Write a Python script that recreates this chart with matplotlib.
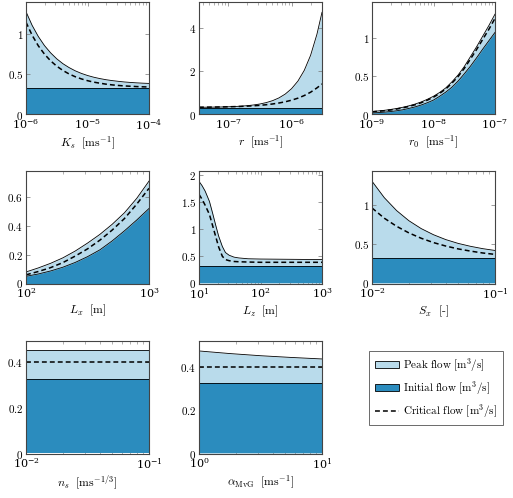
import matplotlib
matplotlib.use("Agg")
import numpy as np
import matplotlib.pyplot as plt
from matplotlib.ticker import LogLocator, FuncFormatter, NullFormatter, FixedLocator
from matplotlib.patches import Patch
from matplotlib.lines import Line2D

plt.rcParams['mathtext.fontset'] = 'cm'
plt.rcParams['font.family'] = ['DejaVu Serif']

W, H = 513, 498

# ---------------- data (x given as log10 exponents) ----------------
initial_level = 0.325

ks_logx = [-6.0, -5.9, -5.8, -5.7, -5.6, -5.5, -5.4, -5.3, -5.2, -5.1, -5.0,
           -4.9, -4.8, -4.7, -4.6, -4.5, -4.4, -4.3, -4.2, -4.1, -4.0]
ks_peak = [1.27, 1.101, 0.964, 0.852, 0.762, 0.688, 0.628, 0.580, 0.540, 0.508, 0.482,
           0.461, 0.444, 0.430, 0.419, 0.410, 0.402, 0.396, 0.391, 0.387, 0.384]
ks_crit = [1.14, 0.979, 0.849, 0.746, 0.663, 0.597, 0.544, 0.501, 0.467, 0.440, 0.418,
           0.400, 0.387, 0.375, 0.366, 0.359, 0.353, 0.349, 0.345, 0.342, 0.340]
ks_init = [initial_level] * len(ks_logx)

r_logx = [-7.46, -7.3, -7.2, -7.1, -7.0, -6.9, -6.8, -6.7, -6.6, -6.5, -6.4,
          -6.3, -6.2, -6.1, -6.0, -5.9, -5.8, -5.7, -5.6, -5.52]
r_peak = [0.336, 0.340, 0.345, 0.350, 0.359, 0.370, 0.387, 0.410, 0.443, 0.488, 0.553,
          0.643, 0.770, 0.949, 1.20, 1.553, 2.05, 2.75, 3.73, 4.75]
r_crit = [0.339, 0.343, 0.347, 0.352, 0.358, 0.366, 0.376, 0.389, 0.405, 0.427, 0.454,
          0.489, 0.534, 0.591, 0.665, 0.759, 0.881, 1.036, 1.236, 1.42]
r_init = [initial_level] * len(r_logx)

r0_logx = [-9.0, -8.9, -8.8, -8.7, -8.6, -8.5, -8.4, -8.3, -8.2, -8.1, -8.0,
           -7.9, -7.8, -7.7, -7.6, -7.5, -7.4, -7.3, -7.2, -7.1, -7.0]
r0_peak = [0.040, 0.047, 0.055, 0.066, 0.079, 0.095, 0.114, 0.137, 0.165, 0.200, 0.240,
           0.290, 0.350, 0.430, 0.520, 0.630, 0.760, 0.890, 1.030, 1.170, 1.320]
r0_crit = [0.035, 0.042, 0.049, 0.059, 0.072, 0.087, 0.106, 0.128, 0.155, 0.189, 0.228,
           0.278, 0.336, 0.413, 0.500, 0.606, 0.729, 0.854, 0.988, 1.120, 1.265]
r0_init = [0.020, 0.025, 0.031, 0.039, 0.049, 0.062, 0.080, 0.100, 0.125, 0.155, 0.190,
           0.240, 0.295, 0.360, 0.440, 0.535, 0.635, 0.745, 0.860, 0.970, 1.080]

lx_logx = [2.0, 2.1, 2.2, 2.3, 2.4, 2.5, 2.6, 2.7, 2.8, 2.9, 3.0]
lx_peak = [0.080, 0.108, 0.140, 0.178, 0.225, 0.280, 0.340, 0.410, 0.490, 0.590, 0.710]
lx_crit = [0.060, 0.083, 0.110, 0.145, 0.190, 0.240, 0.300, 0.370, 0.450, 0.550, 0.660]
lx_init = [0.050, 0.066, 0.087, 0.113, 0.146, 0.186, 0.233, 0.295, 0.365, 0.440, 0.520]

lz_logx = [1.0, 1.05, 1.1, 1.17, 1.22, 1.27, 1.32, 1.38, 1.43, 1.49, 1.57, 1.65, 1.8, 2.0, 3.0]
lz_peak = [1.88, 1.80, 1.70, 1.51, 1.30, 1.08, 0.87, 0.68, 0.57, 0.52, 0.485, 0.47, 0.455, 0.45, 0.44]
lz_crit = [1.64, 1.55, 1.44, 1.27, 1.07, 0.87, 0.67, 0.50, 0.44, 0.42, 0.405, 0.40, 0.395, 0.39, 0.39]
lz_init = [initial_level] * len(lz_logx)

sx_logx = [-2.0, -1.9, -1.8, -1.7, -1.6, -1.5, -1.4, -1.3, -1.2, -1.1, -1.0]
sx_peak = [1.30, 1.091, 0.927, 0.798, 0.698, 0.620, 0.558, 0.510, 0.473, 0.443, 0.420]
sx_crit = [0.96, 0.830, 0.727, 0.643, 0.575, 0.520, 0.476, 0.440, 0.412, 0.388, 0.370]
sx_init = [initial_level] * len(sx_logx)

ns_logx = [-2.0, -1.0]
ns_peak = [0.45, 0.45]
ns_crit = [0.40, 0.40]
ns_init = [initial_level, initial_level]

al_logx = [0.0, 0.25, 0.5, 0.75, 1.0]
al_peak = [0.474, 0.462, 0.452, 0.444, 0.437]
al_crit = [0.40, 0.40, 0.40, 0.40, 0.40]
al_init = [initial_level] * len(al_logx)

xlabels = [
    r"$K_s\ \ [\mathrm{ms}^{-1}]$",
    r"$r\ \ [\mathrm{ms}^{-1}]$",
    r"$r_0\ \ [\mathrm{ms}^{-1}]$",
    r"$L_x\ \ [\mathrm{m}]$",
    r"$L_z\ \ [\mathrm{m}]$",
    r"$S_x$  [-]",
    r"$n_s\ \ [\mathrm{ms}^{-1/3}]$",
    r"$\alpha_{\mathrm{MvG}}\ \ [\mathrm{ms}^{-1}]$",
]

panels = [
    (ks_logx, ks_peak, ks_crit, ks_init, (1e-6, 1e-4), 1.39, [0, 0.5, 1]),
    (r_logx, r_peak, r_crit, r_init, (3.47e-8, 3.02e-6), 5.23, [0, 2, 4]),
    (r0_logx, r0_peak, r0_crit, r0_init, (1e-9, 1e-7), 1.48, [0, 0.5, 1]),
    (lx_logx, lx_peak, lx_crit, lx_init, (100, 1000), 0.78, [0, 0.2, 0.4, 0.6]),
    (lz_logx, lz_peak, lz_crit, lz_init, (10, 1000), 2.07, [0, 0.5, 1, 1.5, 2]),
    (sx_logx, sx_peak, sx_crit, sx_init, (0.01, 0.1), 1.43, [0, 0.5, 1]),
    (ns_logx, ns_peak, ns_crit, ns_init, (0.01, 0.1), 0.49, [0, 0.2, 0.4]),
    (al_logx, al_peak, al_crit, al_init, (1, 10), 0.52, [0, 0.2, 0.4]),
]

legend_labels = [r"$\mathrm{Peak\ flow\ [m^3/s]}$",
                 r"$\mathrm{Initial\ flow\ [m^3/s]}$",
                 r"$\mathrm{Critical\ flow\ [m^3/s]}$"]

light = '#b9dbeb'
dark = '#2b8cbe'
spine_c = '#444444'
dash = (0, (3.2, 2.0))

fig = plt.figure(figsize=(W / 100, H / 100), dpi=100)

col_left = [26, 199, 372]
row_top = [2, 171, 341]
ax_w, ax_h = 123, 112.5


def yfmt(v, pos):
    return "$%g$" % v


for i, (lx, pk, cr, ini, xl, ytop, yt) in enumerate(panels):
    x = np.power(10.0, lx)
    r, c = divmod(i, 3)
    ax = fig.add_axes([col_left[c] / W, 1 - (row_top[r] + ax_h) / H, ax_w / W, ax_h / H])
    ax.set_xscale('log')
    ax.fill_between(x, 0, pk, color=light, lw=0, zorder=1)
    ax.plot(x, pk, color='black', lw=0.6, zorder=3)
    ax.fill_between(x, 0, ini, color=dark, lw=0, zorder=2)
    ax.plot(x, ini, color='black', lw=0.6, zorder=3)
    ax.plot(x, cr, color='black', lw=1.1, ls=dash, zorder=4)
    ax.set_xlim(*xl)
    ax.set_ylim(0, ytop)
    ax.yaxis.set_major_locator(FixedLocator(yt))
    ax.yaxis.set_major_formatter(FuncFormatter(yfmt))
    ax.xaxis.set_major_locator(LogLocator(base=10, numticks=20))
    ax.xaxis.set_minor_locator(LogLocator(base=10, subs=range(2, 10), numticks=100))
    ax.xaxis.set_minor_formatter(NullFormatter())
    ax.tick_params(which='both', direction='in', top=True, right=True,
                   color='0.45', labelsize=8, pad=2)
    ax.tick_params(which='major', length=3.2, width=0.5)
    ax.tick_params(which='minor', length=1.8, width=0.4)
    for s in ax.spines.values():
        s.set_color(spine_c)
        s.set_linewidth(0.8)
        s.set_zorder(5)
    if i == 5:
        ax.set_xlabel(xlabels[i], fontsize=8.5, labelpad=2, fontfamily='cmr10')
    else:
        ax.set_xlabel(xlabels[i], fontsize=8.5, labelpad=2)

handles = [Patch(facecolor=light, edgecolor='black', linewidth=0.6),
           Patch(facecolor=dark, edgecolor='black', linewidth=0.6),
           Line2D([0], [0], color='black', lw=1.1, ls=dash)]
leg = fig.legend(handles, legend_labels, loc='center',
                 bbox_to_anchor=(436 / W, 1 - 388 / H), fontsize=8,
                 frameon=True, fancybox=False, edgecolor='#444444',
                 handlelength=2.2, handleheight=0.6, handletextpad=0.3,
                 borderpad=0.5, labelspacing=0.45, borderaxespad=0)
leg.get_frame().set_linewidth(0.7)

fig.savefig('out.png', dpi=100)
